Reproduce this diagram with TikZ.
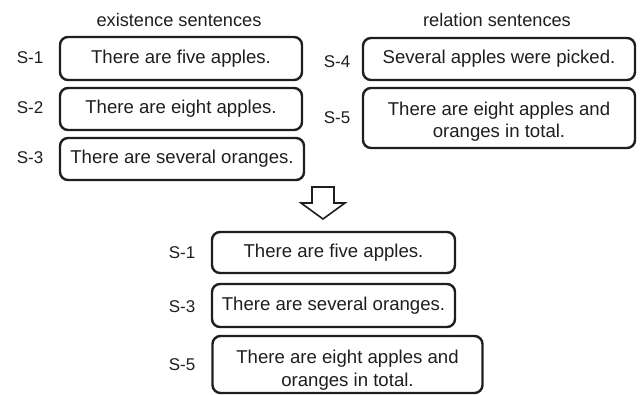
\documentclass[tikz,border=0pt]{standalone}
\usepackage{fontspec}
\setmainfont{Liberation Sans}
\definecolor{ink}{HTML}{1E1E1E}
\begin{document}
\begin{tikzpicture}[x=1pt,y=-1pt,
  sbox/.style={draw=ink,line width=2.4pt,rounded corners=8pt,inner sep=0pt,
    align=center,text=ink,font=\fontsize{18.6}{22.5}\selectfont},
  slabel/.style={text=ink,inner sep=0pt,font=\fontsize{17}{20}\selectfont},
  header/.style={text=ink,inner sep=0pt,font=\fontsize{18.2}{20}\selectfont}]
\useasboundingbox (0,0) rectangle (643,394);
% headers
\node[header] (hexist) at (179,20) {existence sentences};
\node[header] (hrel) at (497,20) {relation sentences};
% existence boxes
\node[sbox,minimum width=242pt,minimum height=43pt] (e1) at (181,58.5) {There are five apples.};
\node[sbox,minimum width=242pt,minimum height=42pt] (e2) at (181,109) {There are eight apples.};
\node[sbox,minimum width=244pt,minimum height=42pt] (e3) at (182,159) {There are several oranges.};
\node[slabel] (l1) at (30,58) {S-1};
\node[slabel] (l2) at (30,108) {S-2};
\node[slabel] (l3) at (30,158) {S-3};
% relation boxes
\node[sbox,minimum width=272pt,minimum height=42pt] (r4) at (499,59) {Several apples were picked.};
\node[sbox,minimum width=272pt,minimum height=60pt] (r5) at (499,118) {\rule{0pt}{20.5pt}There are eight apples and\\oranges in total.};
\node[slabel] (l4) at (337,62) {S-4};
\node[slabel] (l5) at (337,118) {S-5};
% arrow
\draw[ink,line width=1.6pt,line join=miter]
  (312,187) -- (334,187) -- (334,203) -- (345,203) -- (323,219) -- (301,203) -- (312,203) -- cycle;
% result boxes
\node[sbox,minimum width=243pt,minimum height=41pt] (b1) at (333.5,252.5) {There are five apples.};
\node[sbox,minimum width=243pt,minimum height=43pt] (b3) at (333.5,305.5) {There are several oranges.};
\node[sbox,minimum width=270pt,minimum height=57pt] (b5) at (347.5,364.5) {\rule{0pt}{24.5pt}There are eight apples and\\oranges in total.};
\node[slabel] (m1) at (182,253) {S-1};
\node[slabel] (m3) at (182,307) {S-3};
\node[slabel] (m5) at (182,365) {S-5};
\end{tikzpicture}
\end{document}
